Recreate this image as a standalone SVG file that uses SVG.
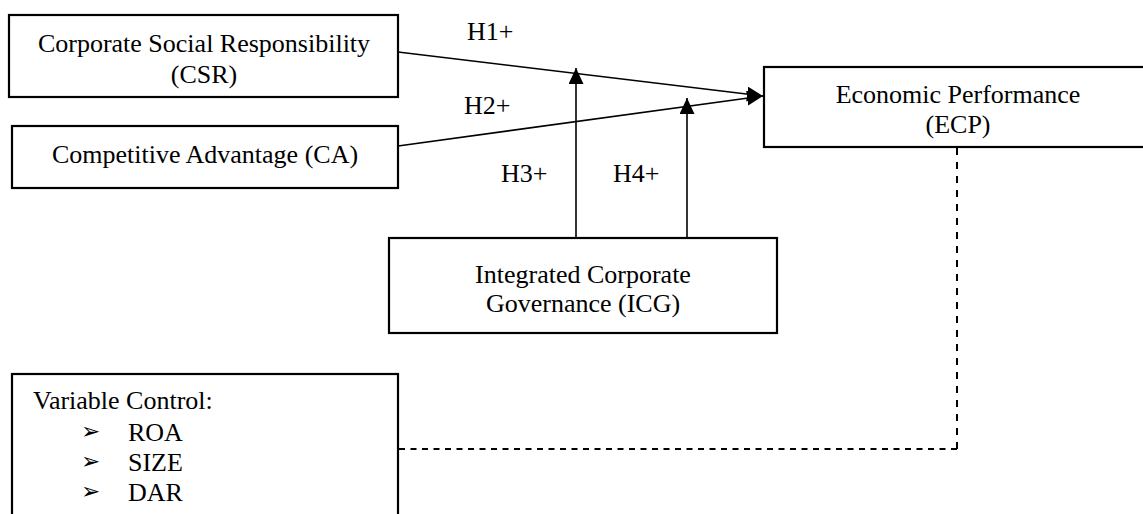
<svg xmlns="http://www.w3.org/2000/svg" width="1143" height="514" viewBox="0 0 1143 514">
<style>
.box{fill:#fff;stroke:#000;stroke-width:2.2}
.t{font-family:"Liberation Serif","Times New Roman",serif;font-size:26px;fill:#000}
.c{text-anchor:middle}
.ln{stroke:#000;stroke-width:1.6;fill:none}
.dsh{stroke:#000;stroke-width:2;fill:none}
.bul{font-family:"DejaVu Sans",sans-serif;font-size:23px;fill:#000}
</style>
<defs>
<marker id="ah" markerUnits="userSpaceOnUse" markerWidth="17" markerHeight="15" refX="16" refY="7.5" orient="auto">
<path d="M0,0 L16,7.5 L0,15 Z" fill="#000"/>
</marker>
</defs>
<rect width="1143" height="514" fill="#fff"/>
<g id="csr">
<rect class="box" x="9" y="15" width="389" height="82"/>
<text class="t c" x="204" y="52">Corporate Social Responsibility</text>
<text class="t c" x="204" y="83">(CSR)</text>
</g>
<g id="ca">
<rect class="box" x="12" y="126" width="386" height="62"/>
<text class="t c" x="205" y="163">Competitive Advantage (CA)</text>
</g>
<g id="ecp">
<rect class="box" x="764" y="67" width="400" height="80"/>
<text class="t c" x="958" y="103">Economic Performance</text>
<text class="t c" x="958" y="133">(ECP)</text>
</g>
<g id="icg">
<rect class="box" x="389" y="238" width="388" height="95"/>
<text class="t c" x="583" y="283">Integrated Corporate</text>
<text class="t c" x="583" y="312">Governance (ICG)</text>
</g>
<g id="control">
<rect class="box" x="12" y="374" width="386" height="160"/>
<text class="t" x="33" y="409">Variable Control:</text>
<text class="bul" x="81" y="439">➢</text>
<text class="t" x="128" y="441">ROA</text>
<text class="bul" x="81" y="469">➢</text>
<text class="t" x="128" y="471">SIZE</text>
<text class="bul" x="81" y="499">➢</text>
<text class="t" x="128" y="501">DAR</text>
</g>
<g id="connectors">
<line class="ln" x1="398" y1="52" x2="763" y2="96" marker-end="url(#ah)"/>
<line class="ln" x1="398" y1="146" x2="763" y2="96" marker-end="url(#ah)"/>
<line class="ln" x1="576" y1="238" x2="576" y2="68" marker-end="url(#ah)"/>
<line class="ln" x1="687" y1="238" x2="687" y2="98" marker-end="url(#ah)"/>
<polyline class="dsh" points="957,148 957,449" stroke-dasharray="7,7"/>
<polyline class="dsh" points="957,449 399,449" stroke-dasharray="6,5.5"/>
</g>
<g id="labels">
<text class="t" x="467" y="40">H1+</text>
<text class="t" x="464" y="114">H2+</text>
<text class="t" x="501" y="182">H3+</text>
<text class="t" x="613" y="182">H4+</text>
</g>
</svg>
